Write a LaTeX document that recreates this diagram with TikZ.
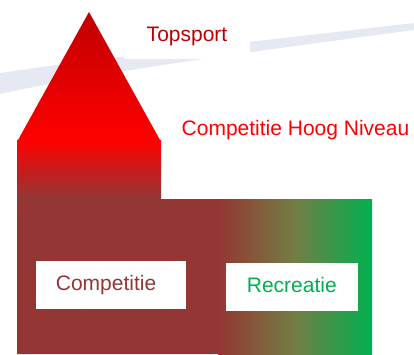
\documentclass[tikz,border=0pt]{standalone}
\usepackage{fontspec}
\setmainfont{Liberation Sans}
\definecolor{topred}{HTML}{C00000}
\definecolor{brickred}{HTML}{943634}
\definecolor{recgreen}{HTML}{00B050}
\definecolor{olive}{RGB}{114,126,68}
\definecolor{swoosh}{HTML}{E6E9F2}
\begin{document}
\begin{tikzpicture}[
	x=1pt,y=-1pt,
	every node/.style={font=\fontsize{21}{25}\selectfont,inner sep=0pt,text height=15.3pt,text depth=4.4pt},
	levelbox/.style={fill=white,minimum height=47.7pt}
]
\useasboundingbox (0,0) rectangle (414,354);
%\draw[step=10,black!5!white] (0,0)grid(414,354);
%\draw[step=50,black!20!white] (0,0)grid(414,354);
% achtergrond
\fill[swoosh] (0,73) .. controls (100,58) and (250,42) .. (414,23) -- (414,30) .. controls (250,52) and (100,72) .. (0,94) -- cycle;
% huis
\fill[brickred] (17,196) rectangle (161,354) (160,199) rectangle (219,354);
\shade[top color=red,bottom color=brickred] (17,140)coordinate(tl) rectangle (161,197)coordinate(step);
\shade[left color=brickred,right color=recgreen,middle color=olive] (218,199) rectangle (372,354)coordinate(br);
\shade[top color=topred,bottom color=red] (89,12)coordinate(apex) -- (160,140)coordinate(e2) -- (18,140)coordinate(e1) -- cycle;
% teksten
\node[fill=white,inner xsep=23pt,inner ysep=14pt,anchor=base,text=topred] (top) at (187,41) {Topsport};
\node[anchor=base,text=red] (hoog) at (295.5,135.3) {Competitie Hoog Niveau};
\node[levelbox,anchor=west,text width=110.6pt,inner xsep=19.7pt,align=left,text=brickred] (comp) at (36,284.8) {Competitie};
\node[levelbox,minimum width=131.7pt,text=recgreen] (rec) at (291.8,286.8) {Recreatie};
\end{tikzpicture}
\end{document}
